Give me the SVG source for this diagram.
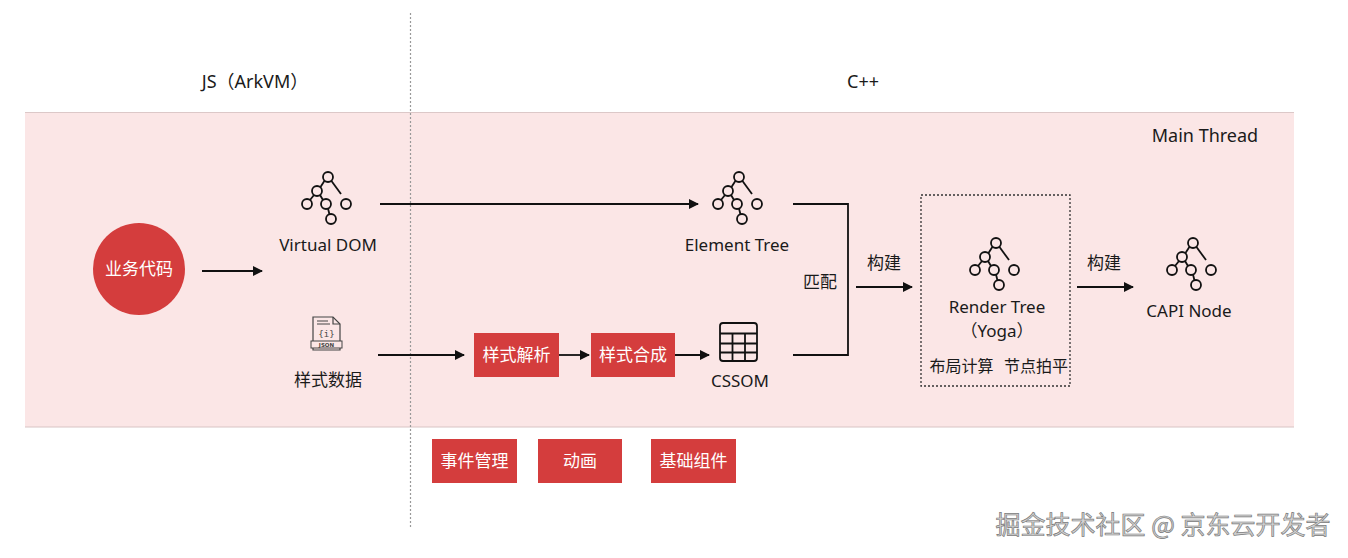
<svg xmlns="http://www.w3.org/2000/svg" width="1348" height="558" viewBox="0 0 1348 558">
<defs>
<style>
.t{font-family:"Noto Sans","Noto Sans CJK SC",sans-serif;fill:#1a1a1a;text-anchor:middle}
.lbl{font-size:17px}
.hd{font-size:18px}
.w{font-family:"Noto Sans CJK SC","Noto Sans",sans-serif;fill:#ffffff;text-anchor:middle;font-size:17px}
.box{fill:#d43d3d}
.ln{stroke:#111;stroke-width:1.8;fill:none}
.ic{stroke:#111;stroke-width:1.8;fill:none}
</style>
<marker id="ah" viewBox="0 0 10 10" refX="9" refY="5" markerWidth="10" markerHeight="10" markerUnits="userSpaceOnUse" orient="auto">
<path d="M0,0 L10,5 L0,10 z" fill="#111"/>
</marker>
<g id="tree">
<circle class="ic" cx="0" cy="0" r="5"/>
<circle class="ic" cx="-11" cy="14" r="5"/>
<circle class="ic" cx="-21" cy="27" r="5"/>
<circle class="ic" cx="-2" cy="27" r="5"/>
<circle class="ic" cx="18" cy="27" r="5"/>
<circle class="ic" cx="3" cy="42" r="5"/>
<line class="ic" x1="-3.5" y1="3.8" x2="-7.5" y2="10"/>
<line class="ic" x1="3.3" y1="3.8" x2="13" y2="17"/>
<line class="ic" x1="-14" y1="18" x2="-18" y2="23"/>
<line class="ic" x1="-8" y1="18" x2="-5" y2="23"/>
<line class="ic" x1="0" y1="31.5" x2="1.5" y2="37.5"/>
</g>
</defs>
<rect width="1348" height="558" fill="#ffffff"/>

<g id="band">
<rect x="25" y="112" width="1269" height="315" fill="#fbe6e6"/>
<line x1="25" y1="112.5" x2="1294" y2="112.5" stroke="#dcc8c8" stroke-width="1"/>
<line x1="25" y1="427" x2="1294" y2="427" stroke="#d8c4c4" stroke-width="1"/>
</g>

<line id="divider" x1="410.5" y1="13" x2="410.5" y2="527" stroke="#999" stroke-width="1.2" stroke-dasharray="2,2"/>

<text class="t hd" x="255" y="88" font-size="18.5">JS（ArkVM）</text>
<text class="t hd" x="863" y="88">C++</text>
<text class="t hd" x="1205" y="142">Main Thread</text>

<g id="connectors">
<line class="ln" x1="202" y1="271" x2="262" y2="271" marker-end="url(#ah)"/>
<line class="ln" x1="380" y1="204" x2="698" y2="204" marker-end="url(#ah)"/>
<line class="ln" x1="378" y1="355" x2="464" y2="355" marker-end="url(#ah)"/>
<line class="ln" x1="559" y1="355" x2="589" y2="355" marker-end="url(#ah)"/>
<line class="ln" x1="675" y1="355" x2="709" y2="355" marker-end="url(#ah)"/>
<polyline class="ln" points="793,204 848,204 848,355 793,355"/>
<line class="ln" x1="856" y1="287" x2="912" y2="287" marker-end="url(#ah)"/>
<line class="ln" x1="1077" y1="287" x2="1133" y2="287" marker-end="url(#ah)"/>
<text class="t lbl" x="820" y="288">匹配</text>
<text class="t lbl" x="884" y="269">构建</text>
<text class="t lbl" x="1104" y="269">构建</text>
</g>

<g id="node-business">
<circle cx="139" cy="269" r="46" fill="#d43d3d"/>
<text class="w" x="139" y="275">业务代码</text>
</g>

<g id="node-vdom">
<use href="#tree" x="328" y="177"/>
<text class="t lbl" x="328" y="251">Virtual DOM</text>
</g>

<g id="node-element">
<use href="#tree" x="739" y="177"/>
<text class="t lbl" x="737" y="251">Element Tree</text>
</g>

<g id="node-json">
<path d="M313,317 L333,317 L340,324 L340,350 L313,350 Z" fill="none" stroke="#444" stroke-width="1.2"/>
<path d="M333,317 L333,324 L340,324" fill="none" stroke="#444" stroke-width="1.2"/>
<line x1="317" y1="321" x2="328" y2="321" stroke="#444" stroke-width="1"/>
<line x1="317" y1="324" x2="330" y2="324" stroke="#444" stroke-width="1"/>
<text x="326.5" y="337" font-family="DejaVu Sans Mono,monospace" font-size="9" fill="#444" text-anchor="middle">{i}</text>
<rect x="311" y="341" width="31" height="7" fill="#fbe6e6" stroke="#444" stroke-width="1"/>
<text x="326.5" y="347" font-family="DejaVu Sans,sans-serif" font-size="5.5" font-weight="bold" fill="#444" text-anchor="middle">JSON</text>
<text class="t lbl" x="328" y="386">样式数据</text>
</g>

<g id="node-parse">
<rect class="box" x="474" y="333" width="85" height="44"/>
<text class="w" x="516.5" y="361">样式解析</text>
</g>

<g id="node-compose">
<rect class="box" x="591" y="333" width="84" height="44"/>
<text class="w" x="633" y="361">样式合成</text>
</g>

<g id="node-cssom">
<rect x="720" y="323" width="37" height="38" rx="3" fill="none" stroke="#111" stroke-width="1.8"/>
<line class="ic" x1="720" y1="333.5" x2="757" y2="333.5"/>
<line class="ic" x1="720" y1="343.5" x2="757" y2="343.5"/>
<line class="ic" x1="720" y1="352.5" x2="757" y2="352.5"/>
<line class="ic" x1="732.5" y1="333.5" x2="732.5" y2="361"/>
<line class="ic" x1="745" y1="333.5" x2="745" y2="361"/>
<text class="t lbl" x="740" y="387">CSSOM</text>
</g>

<g id="node-render">
<rect x="921" y="195" width="149" height="191" fill="none" stroke="#333" stroke-width="1.3" stroke-dasharray="2,2"/>
<use href="#tree" x="996" y="243"/>
<text class="t lbl" x="997" y="313" font-size="17.5">Render Tree</text>
<text class="t lbl" x="997" y="337">（Yoga）</text>
<text class="t" x="961.5" y="372" font-size="16">布局计算</text>
<text class="t" x="1036" y="372" font-size="16">节点拍平</text>
</g>

<g id="node-capi">
<use href="#tree" x="1193" y="243"/>
<text class="t lbl" x="1189" y="317">CAPI Node</text>
</g>

<g id="node-event">
<rect class="box" x="432" y="439" width="85" height="44"/>
<text class="w" x="474.5" y="467">事件管理</text>
</g>
<g id="node-anim">
<rect class="box" x="538" y="439" width="84" height="44"/>
<text class="w" x="580" y="467">动画</text>
</g>
<g id="node-base">
<rect class="box" x="651" y="439" width="85" height="44"/>
<text class="w" x="693.5" y="467">基础组件</text>
</g>

<text x="1163" y="534" font-family="Noto Sans CJK SC,sans-serif" font-size="25" fill="#d4d4d4" stroke="#7a7a7a" stroke-width="0.7" text-anchor="middle">掘金技术社区 @ 京东云开发者</text>
</svg>
